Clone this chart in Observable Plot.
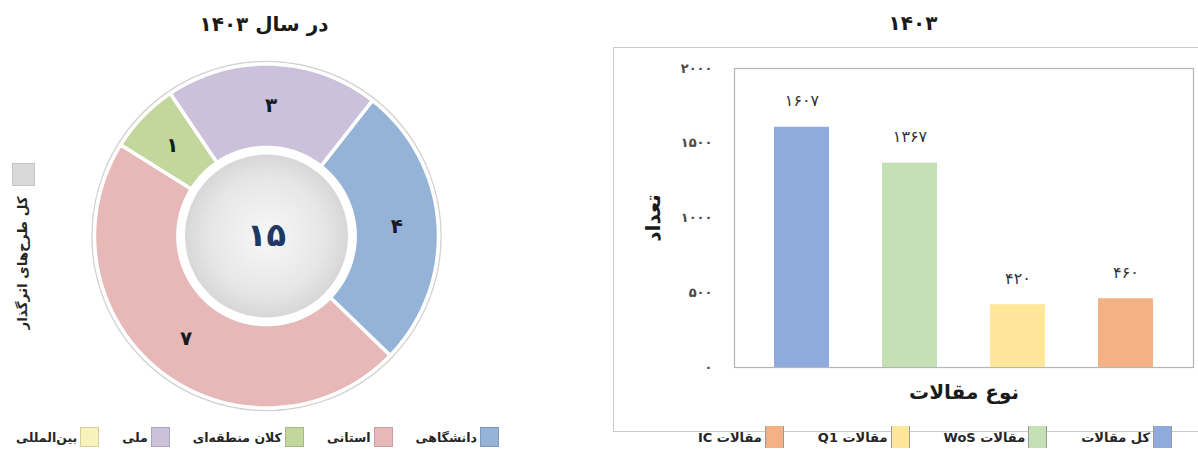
<!DOCTYPE html>
<html><head><meta charset="utf-8">
<script src="https://cdn.jsdelivr.net/npm/d3@7"></script>
<script src="https://cdn.jsdelivr.net/npm/@observablehq/plot@0.6"></script>
<style>
body{margin:0;width:1198px;height:449px;position:relative;overflow:hidden;background:#fff;font-family:"DejaVu Sans",sans-serif;color:#1a1a1a;}
.abs{position:absolute;}
.title{font-weight:bold;font-size:20px;transform:translate(-50%,-50%);white-space:nowrap;direction:rtl;}
.legend{position:absolute;display:flex;flex-direction:row;direction:rtl;align-items:center;font-size:13px;font-weight:bold;color:#262626;white-space:nowrap;transform:translateY(-50%);}
.item{display:flex;align-items:center;}
.sw{box-sizing:border-box;margin-left:3px;}
.frame{position:absolute;left:613px;top:47px;width:640px;height:385px;border:1.5px solid #c9c9c9;box-sizing:border-box;}
</style></head><body>
<script>
// ---------- data ----------
const year = 1403;
const donutCategories = ["دانشگاهی", "استانی", "کلان منطقه‌ای", "ملی", "بین‌المللی"];
const donutValues = [4, 7, 1, 3, 0];
const donutColors = ["#95B3D7", "#E6B9B8", "#C3D69B", "#CCC1DA", "#F8F3BC"];
const totalLegendLabel = "کل طرح‌های اثرگذار";
const donutTitle = "در سال ";

const barCategories = ["کل مقالات", "مقالات WoS", "مقالات Q1", "مقالات IC"];
const barValues = [1607, 1367, 420, 460];
const barColors = ["#8FAADC", "#C5E0B4", "#FFE699", "#F4B183"];
const yTicks = [0, 500, 1000, 1500, 2000];
const yLabel = "تعداد";
const xLabel = "نوع مقالات";

// ---------- helpers ----------
const fa = n => String(n).replace(/\d/g, d => "۰۱۲۳۴۵۶۷۸۹"[+d]);
const body = document.body;
function addDiv(cls, style, html) {
  const d = document.createElement("div");
  d.className = cls; Object.assign(d.style, style); d.innerHTML = html || "";
  body.appendChild(d); return d;
}

// ---------- left: donut ----------
addDiv("abs title", {left: "264px", top: "24px"}, donutTitle + fa(year));

const total = d3.sum(donutValues);
const startDeg = 38, innerR = 0.515, labelR = 0.76;
let acc = 0;
const slices = donutCategories.map((c, i) => {
  const v = donutValues[i];
  const a0 = startDeg + acc / total * 360; acc += v;
  const a1 = startDeg + acc / total * 360;
  return {cat: c, value: v, color: donutColors[i], a0, a1, mid: (a0 + a1) / 2};
}).filter(s => s.value > 0);
const rad = d => d * Math.PI / 180;
function arcPoints(s) {
  const n = Math.max(4, Math.ceil(s.a1 - s.a0));
  const pts = [];
  for (let k = 0; k <= n; k++) { const a = rad(s.a0 + (s.a1 - s.a0) * k / n); pts.push({x: Math.sin(a), y: Math.cos(a)}); }
  for (let k = n; k >= 0; k--) { const a = rad(s.a0 + (s.a1 - s.a0) * k / n); pts.push({x: innerR * Math.sin(a), y: innerR * Math.cos(a)}); }
  return pts;
}
const RPX = 172, DW = 600, DH = 370, cx = 266, cy = 185.5;
const donut = Plot.plot({
  width: DW, height: DH, margin: 0,
  x: {domain: [-cx / RPX, (DW - cx) / RPX], axis: null},
  y: {domain: [-(DH - cy) / RPX, cy / RPX], axis: null},
  style: {fontFamily: "DejaVu Sans", background: "transparent"},
  marks: [
    Plot.dot([{x: 0, y: 0}], {x: "x", y: "y", r: RPX + 2.5, fill: "none", stroke: "#d3d3d3", strokeWidth: 1.5}),
    ...slices.map(s => Plot.line(arcPoints(s), {x: "x", y: "y", curve: "linear-closed", fill: s.color, stroke: "white", strokeWidth: 3.5, strokeLinejoin: "round"})),
    Plot.dot([{x: 0, y: 0}], {x: "x", y: "y", r: 84, fill: "url(#centerGrad)", stroke: "white", strokeWidth: 5}),
    Plot.text(slices, {x: d => labelR * Math.sin(rad(d.mid)), y: d => labelR * Math.cos(rad(d.mid)), text: d => fa(d.value), fontSize: 20, fontWeight: "bold", fill: "#1a1a1a"}),
    Plot.text([total], {x: () => 0, y: () => 0, text: d => fa(d), fontSize: 32, fontWeight: "bold", fill: "#1F3864"})
  ]
});
const defs = d3.select(donut).insert("defs", ":first-child");
const g = defs.append("radialGradient").attr("id", "centerGrad");
g.append("stop").attr("offset", "0%").attr("stop-color", "#f8f8f8");
g.append("stop").attr("offset", "70%").attr("stop-color", "#e6e6e6");
g.append("stop").attr("offset", "100%").attr("stop-color", "#d5d5d5");
donut.style.position = "absolute"; donut.style.left = "0px"; donut.style.top = "50px";
body.appendChild(donut);

// vertical total legend
addDiv("abs", {left: "12px", top: "163px", width: "23px", height: "23px", background: "#d9d9d9", border: "1px solid #c4c4c4", boxSizing: "border-box"});
addDiv("abs", {left: "22px", top: "263px", transform: "translate(-50%,-50%) rotate(-90deg)", fontSize: "13.5px", fontWeight: "bold", whiteSpace: "nowrap", direction: "rtl", color: "#262626"}, totalLegendLabel);

// bottom legend (left)
const legL = addDiv("legend", {right: (1198 - 499) + "px", top: "437px", fontSize: "12.5px"});
donutCategories.forEach((c, i) => {
  const it = document.createElement("div"); it.className = "item";
  it.style.marginLeft = i < donutCategories.length - 1 ? "23px" : "0";
  it.innerHTML = `<div class="sw" style="width:19px;height:20px;background:${donutColors[i]};border:1px solid rgba(0,0,0,0.14)"></div><span>${c}</span>`;
  legL.appendChild(it);
});

// ---------- right: bars ----------
addDiv("abs title", {left: "913px", top: "23px"}, fa(year));
addDiv("frame", {});

const rows = barCategories.map((c, i) => ({cat: c, value: barValues[i]}));
const bars = Plot.plot({
  width: 598, height: 373, marginTop: 21, marginBottom: 53, marginLeft: 134, marginRight: 5,
  x: {domain: barCategories, paddingInner: 0.495, paddingOuter: 0.356, axis: null},
  y: {domain: [0, 2000]},
  color: {domain: barCategories, range: barColors},
  style: {fontFamily: "DejaVu Sans", background: "transparent"},
  marks: [
    Plot.frame({stroke: "#b5b5b5", strokeWidth: 1.2}),
    Plot.barY(rows, {x: "cat", y: "value", fill: "cat"}),
    Plot.text(rows, {x: "cat", y: "value", text: d => fa(d.value), dy: -26, fontSize: 16, fill: "#333"}),
    Plot.axisY({ticks: yTicks, tickFormat: fa, tickSize: 0, tickPadding: 22, fontSize: 13, fontWeight: "bold", fill: "#4a4a4a", label: null}),
    Plot.text([yLabel], {frameAnchor: "left", textAnchor: "middle", lineAnchor: "middle", dx: -81, rotate: -90, fontSize: 20, fontWeight: "bold", fill: "#1a1a1a"}),
    Plot.text([xLabel], {frameAnchor: "bottom", textAnchor: "middle", lineAnchor: "middle", dy: 25, fontSize: 20, fontWeight: "bold", fill: "#1a1a1a"})
  ]
});
bars.style.position = "absolute"; bars.style.left = "600px"; bars.style.top = "47px";
body.appendChild(bars);

// bottom legend (right)
const legR = addDiv("legend", {right: (1198 - 1172) + "px", top: "437px"});
barCategories.forEach((c, i) => {
  const it = document.createElement("div"); it.className = "item";
  it.style.marginLeft = i < barCategories.length - 1 ? "34px" : "0";
  it.innerHTML = `<div class="sw" style="width:19px;height:22px;background:${barColors[i]};border-left:1.5px solid #9a9a9a;border-right:1.5px solid #9a9a9a"></div><span>${c}</span>`;
  legR.appendChild(it);
});
</script>
</body></html>
